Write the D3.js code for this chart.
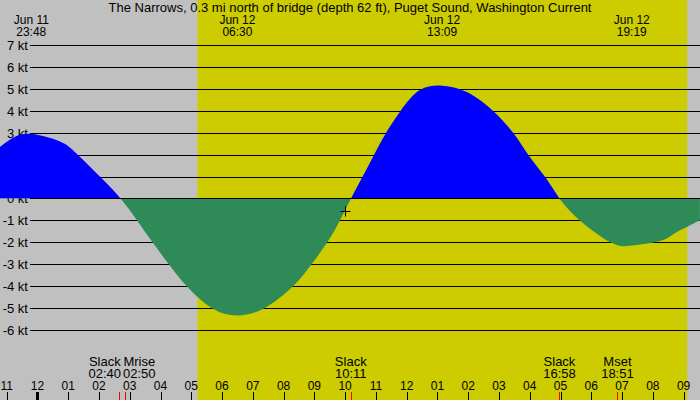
<!DOCTYPE html>
<html>
<head>
<meta charset="utf-8">
<script src="https://cdn.jsdelivr.net/npm/d3@7"></script>
<style>
  html, body { margin: 0; padding: 0; background: #c0c0c0; }
  svg { display: block; }
  text { font-family: "Liberation Sans", Arial, sans-serif; font-size: 12px; fill: #000; }
  .big { font-size: 13px; }
</style>
</head>
<body>
<svg id="chart" width="700" height="400"></svg>
<script>
// ---------------- data ----------------
const title = "The Narrows, 0.3 mi north of bridge (depth 62 ft), Puget Sound, Washington Current";
// hours relative to Jun 12 00:00 and current speed (kt)
const curveHours  = [-1.22, -0.73, -0.15, 0.73, 1.27, 2.03, 2.70, 3.24, 3.74, 4.27, 4.85, 5.66, 6.50, 7.39, 8.31, 8.91, 9.42, 9.83, 10.19, 10.57, 10.94, 11.33, 11.80, 12.43, 13.15, 13.73, 14.22, 14.81, 15.46, 15.95, 16.49, 16.97, 17.63, 18.62, 19.31, 20.23, 20.66, 21.10, 21.53];
const curveValues = [ 2.35,  2.82,  2.94, 2.60, 2.05, 1.00, 0.00, -1.00, -2.00, -3.00, -4.00, -5.00, -5.34, -5.00, -4.00, -3.00, -2.00, -1.00, 0.00, 1.00, 2.00, 3.00, 4.00, 4.95, 5.15, 4.99, 4.65, 4.00, 3.00, 2.00, 1.00, 0.00, -1.00, -2.00, -2.15, -1.94, -1.63, -1.30, -0.99];
// maxima labels at top
const maxDates = ["Jun 11", "Jun 12", "Jun 12", "Jun 12"];
const maxTimes = ["23:48", "06:30", "13:09", "19:19"];
const maxDays  = [-1, 0, 0, 0];
// events at bottom
const eventNames = ["Slack", "Mrise", "Slack", "Slack", "Mset"];
const eventTimes = ["02:40", "02:50", "10:11", "16:58", "18:51"];
// daylight
const sunrise = "05:12";
const sunset  = "21:07";
// current-time mark
const markTime = "10:00";
const markValue = -0.55;
// y ticks
const yTicks = [7, 6, 5, 4, 3, 2, 1, 0, -1, -2, -3, -4, -5, -6];
// time window
const startTime = new Date(2024, 5, 11, 22, 47);
const endTime   = new Date(2024, 5, 12, 21, 32);

// ---------------- helpers ----------------
const base = new Date(2024, 5, 12, 0, 0);
const fromHours = h => new Date(base.getTime() + h * 3600e3);
const fromHM = (s, day = 0) => { const [h, m] = s.split(":").map(Number); return new Date(2024, 5, 12 + day, h, m); };

const W = 700, H = 400;
const svg = d3.select("#chart");
const x = d3.scaleTime().domain([startTime, endTime]).range([0, W]);
const y = d3.scaleLinear().domain([-6, 7]).range([329.9, 45.2]);

// background: night then daylight
svg.append("rect").attr("x", 0).attr("y", 0).attr("width", W).attr("height", H).attr("fill", "#c0c0c0");
svg.append("rect")
  .attr("x", x(fromHM(sunrise))).attr("y", 0)
  .attr("width", x(fromHM(sunset)) - x(fromHM(sunrise))).attr("height", H)
  .attr("fill", "#cccc00");

// grid lines
const gridLeft = 30;
svg.append("g").selectAll("line").data(yTicks).join("line")
  .attr("x1", gridLeft).attr("x2", W)
  .attr("y1", d => Math.round(y(d)) + 0.5).attr("y2", d => Math.round(y(d)) + 0.5)
  .attr("stroke", "#000").attr("stroke-width", 1);
svg.append("g").selectAll("text").data(yTicks).join("text")
  .attr("class", "big")
  .attr("x", 28).attr("y", d => Math.round(y(d)) + 0.5)
  .attr("dy", "0.36em").attr("text-anchor", "end")
  .text(d => `${d} kt`);

// curve fill
const pts = curveHours.map((h, i) => ({ t: fromHours(h), v: curveValues[i] }));
const area = d3.area().x(d => x(d.t)).y0(y(0)).y1(d => y(d.v)).curve(d3.curveNatural);
const defs = svg.append("defs");
defs.append("clipPath").attr("id", "pos").append("rect").attr("x", 0).attr("y", 0).attr("width", W).attr("height", y(0));
defs.append("clipPath").attr("id", "neg").append("rect").attr("x", 0).attr("y", y(0)).attr("width", W).attr("height", H - y(0));
svg.append("path").datum(pts).attr("d", area).attr("fill", "#0000ff").attr("clip-path", "url(#pos)");
svg.append("path").datum(pts).attr("d", area).attr("fill", "#2e8b57").attr("clip-path", "url(#neg)");

// zero line on top
svg.append("line").attr("x1", gridLeft).attr("x2", W)
  .attr("y1", Math.round(y(0)) + 0.5).attr("y2", Math.round(y(0)) + 0.5)
  .attr("stroke", "#000");

// mark "+"
const mx = Math.round(x(fromHM(markTime))) + 0.5, my = Math.round(y(markValue)) + 0.5;
svg.append("path").attr("d", `M${mx - 5},${my}H${mx + 5}M${mx},${my - 5}V${my + 5}`).attr("stroke", "#000").attr("fill", "none");

// title
svg.append("text").attr("class", "big").attr("x", W / 2).attr("y", 11.5).attr("text-anchor", "middle").text(title);

// top max labels
const topG = svg.append("g");
maxTimes.forEach((t, i) => {
  const xx = x(fromHM(t, maxDays[i]));
  topG.append("text").attr("x", xx).attr("y", 24).attr("text-anchor", "middle").text(maxDates[i]);
  topG.append("text").attr("x", xx).attr("y", 36).attr("text-anchor", "middle").text(t);
});

// hour ticks and labels
const hours = d3.timeHour.range(d3.timeHour.ceil(startTime), endTime);
const tickG = svg.append("g");
tickG.selectAll("line").data(hours).join("line")
  .attr("x1", d => Math.round(x(d)) + 0.5).attr("x2", d => Math.round(x(d)) + 0.5)
  .attr("y1", 392).attr("y2", H)
  .attr("stroke", "#000").attr("stroke-width", d => d.getHours() === 0 ? 3 : 1);
tickG.selectAll("text").data(hours).join("text")
  .attr("x", d => x(d)).attr("y", 389.5).attr("text-anchor", "middle")
  .text(d => d3.timeFormat("%I")(d));

// event ticks
const evG = svg.append("g");
const evX = eventTimes.map(t => x(fromHM(t)));
evG.selectAll("line").data(evX).join("line")
  .attr("x1", d => Math.round(d) + 0.5).attr("x2", d => Math.round(d) + 0.5)
  .attr("y1", 392).attr("y2", H).attr("stroke", "#ff0000");

// event labels with simple overlap avoidance
const labels = eventNames.map((n, i) => {
  const g = evG.append("g");
  const a = g.append("text").attr("class", "big").attr("y", 366).attr("text-anchor", "middle").text(n);
  const b = g.append("text").attr("class", "big").attr("y", 377.5).attr("text-anchor", "middle").text(eventTimes[i]);
  const w = Math.max(a.node().getComputedTextLength(), b.node().getComputedTextLength());
  return { g, a, b, w, cx: evX[i] };
});
for (let i = 1; i < labels.length; i++) {
  const p = labels[i - 1], c = labels[i];
  const gap = (c.cx - c.w / 2) - (p.cx + p.w / 2);
  if (gap < 2) {
    const shift = (2 - gap) / 2;
    p.cx -= shift; c.cx += shift;
  }
}
labels.forEach(l => { l.a.attr("x", l.cx); l.b.attr("x", l.cx); });
</script>
</body>
</html>
